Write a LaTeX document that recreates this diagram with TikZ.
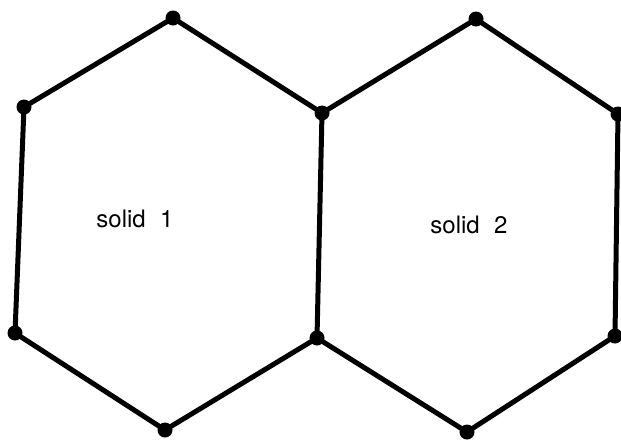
\documentclass[tikz,border=0pt]{standalone}
\usepackage{fontspec}
\setmainfont{TeX Gyre Heros}
\usetikzlibrary{positioning}
\tikzset{
  edge/.style={draw=black, line width=5pt, line join=round, line cap=round},
  vtx/.style={circle, fill=black, inner sep=0pt, minimum size=15pt},
  lbl/.style={font=\fontsize{24}{28}\selectfont, inner sep=1pt},
}

\begin{document}
\begin{tikzpicture}[x=1pt, y=-1pt]
\useasboundingbox (0,0) rectangle (621,440);
% the corners of the two cells
\node[vtx] (t1) at (173,18) {};
\node[vtx] (ul1) at (24,107) {};
\node[vtx] (ll1) at (15,333) {};
\node[vtx] (b1) at (165,430) {};
\node[vtx] (lm) at (317,338) {};
\node[vtx] (um) at (322,113) {};
\node[vtx] (t2) at (476,19) {};
\node[vtx] (ur2) at (618,114) {};
\node[vtx] (lr2) at (615,336) {};
\node[vtx] (b2) at (467,432) {};
% the boundaries
\draw[edge] (t1.center) -- (ul1.center) -- (ll1.center) -- (b1.center) -- (lm.center) -- (um.center) -- cycle;
\draw[edge] (um.center) -- (t2.center) -- (ur2.center) -- (lr2.center) -- (b2.center) -- (lm.center);
% the labels
\node[lbl] (s1) at (135,219) {solid\hspace{0.6em}1};
\node[lbl] (s2) at (469,225) {solid\hspace{0.6em}2};
\end{tikzpicture}
\end{document}
